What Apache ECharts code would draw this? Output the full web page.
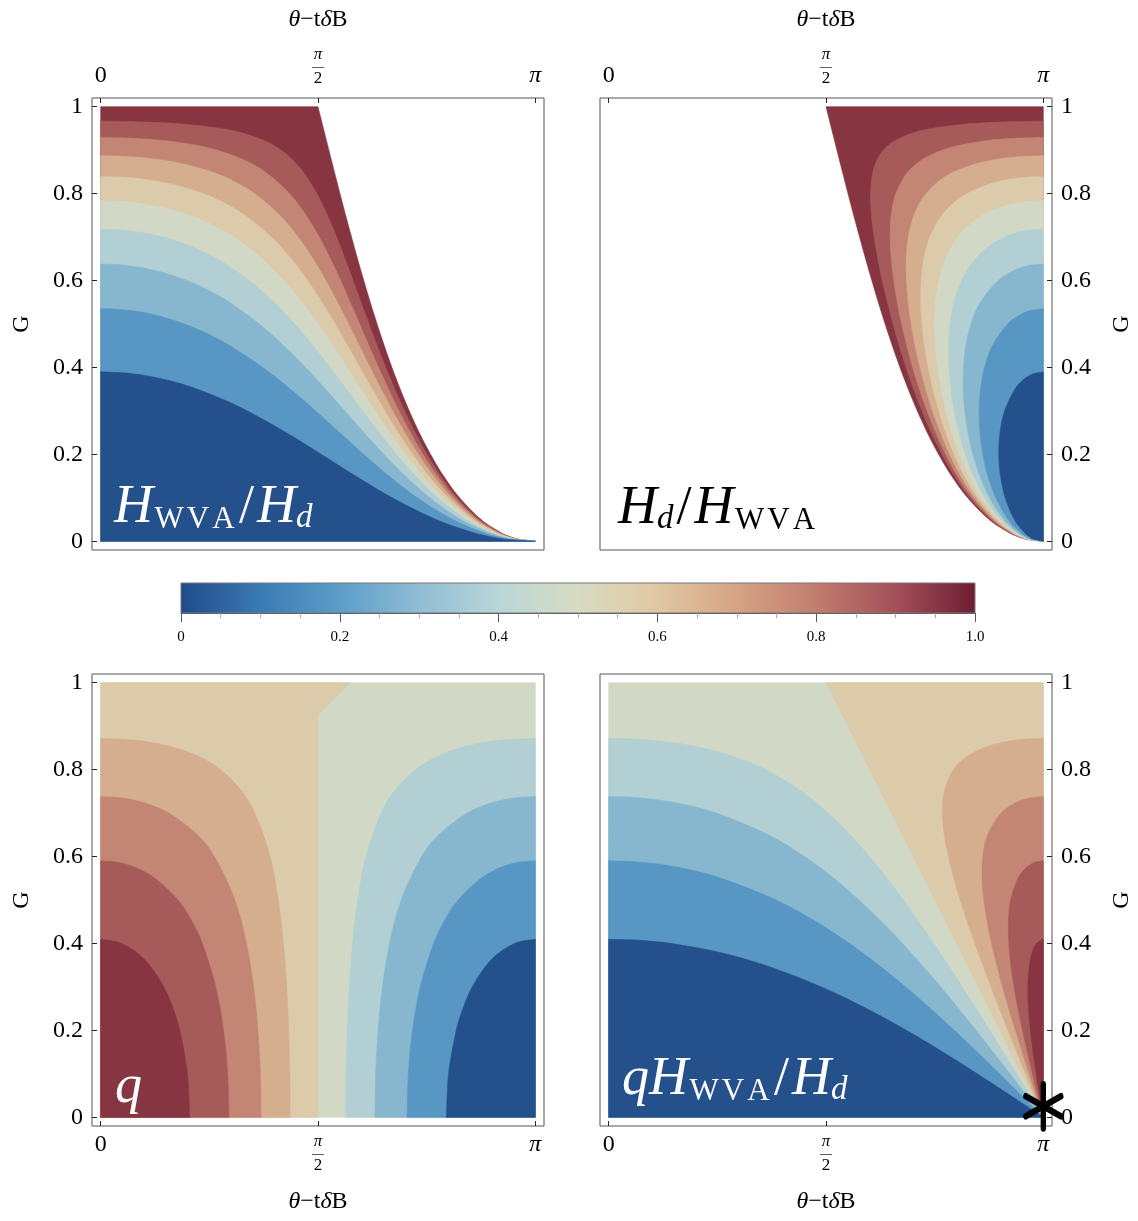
<!DOCTYPE html>
<html><head><meta charset="utf-8">
<script src="https://cdn.jsdelivr.net/npm/echarts@6/dist/echarts.min.js"></script>
<style>html,body{margin:0;padding:0;background:#fff}#c{width:1138px;height:1221px}</style>
</head><body><div id="c"></div>
<script>
// ---------- tick values / labels ----------
const xTickValues = [0, 0.5, 1];            // theta - t dB in units of pi
const xTickText = ['0', 'π/2', 'π'];
const yTickValues = [0, 0.2, 0.4, 0.6, 0.8, 1];
const yTickText = ['0', '0.2', '0.4', '0.6', '0.8', '1'];
const cbTickValues = [0, 0.2, 0.4, 0.6, 0.8, 1];
const cbTickText = ['0', '0.2', '0.4', '0.6', '0.8', '1.0'];

// ---------- contour band colours (0-0.1 ... 0.9-1) ----------
const bandColors = ['#24508c','#5897c3','#87b7cf','#b2d0d3','#d1d8c6','#dccbab','#d4ae8e','#c38674','#a75a5a','#873541'];
const cbStopPos = [0, 0.1, 0.2, 0.3, 0.4, 0.5, 0.6, 0.7, 0.8, 0.9, 1];
const cbStopColor = ['#1f4b89','#3a7ab3','#5d9dc8','#8fbdd3','#bad6d7','#d7dcc3','#dfc8a4','#d5a385','#c17d6f','#a24f59','#6d1e34'];

// ---------- contour lines, points [x (units of pi), G] ----------
const wvaBoundary = [[1,0],[0.9603,0.005],[0.9437,0.01],[0.9206,0.02],[0.8754,0.05],[0.826,0.1],[0.7891,0.15],[0.7591,0.2],[0.7331,0.25],[0.7101,0.3],[0.6893,0.35],[0.6702,0.4],[0.6526,0.45],[0.636,0.5],[0.6203,0.55],[0.6054,0.6],[0.591,0.65],[0.5772,0.7],[0.5637,0.75],[0.5506,0.8],[0.5378,0.85],[0.5251,0.9],[0.5125,0.95],[0.5,1]];

// panel 1: H_WVA/H_d levels
const r01 = [[1,0],[0.929,0.005],[0.8994,0.01],[0.8573,0.02],[0.7721,0.05],[0.671,0.1],[0.5868,0.15],[0.5076,0.2],[0.427,0.25],[0.3373,0.3],[0.285,0.325],[0.2224,0.35],[0.1927,0.36],[0.1568,0.37],[0.1109,0.38],[0.0783,0.385],[0.0489,0.388],[0,0.39]];
const r02 = [[1,0],[0.9403,0.005],[0.9155,0.01],[0.8804,0.02],[0.8105,0.05],[0.7288,0.1],[0.6636,0.15],[0.6054,0.2],[0.5499,0.25],[0.4946,0.3],[0.4367,0.35],[0.3729,0.4],[0.2972,0.45],[0.2508,0.475],[0.1929,0.5],[0.1279,0.52],[0.0761,0.53],[0.0214,0.535],[0,0.5354]];
const r03 = [[1,0],[0.946,0.005],[0.9237,0.01],[0.8921,0.02],[0.8292,0.05],[0.7576,0.1],[0.701,0.15],[0.6516,0.2],[0.6058,0.25],[0.5615,0.3],[0.5172,0.35],[0.4712,0.4],[0.4214,0.45],[0.3649,0.5],[0.296,0.55],[0.2529,0.575],[0.1986,0.6],[0.138,0.62],[0.0926,0.63],[0.0568,0.635],[0.0329,0.637],[0,0.6377]];
const r04 = [[1,0],[0.9498,0.005],[0.9291,0.01],[0.8998,0.02],[0.8415,0.05],[0.7761,0.1],[0.7248,0.15],[0.6808,0.2],[0.6407,0.25],[0.6026,0.3],[0.5654,0.35],[0.5278,0.4],[0.4888,0.45],[0.4466,0.5],[0.3991,0.55],[0.3423,0.6],[0.2677,0.65],[0.2046,0.68],[0.1432,0.7],[0.0964,0.71],[0.0595,0.715],[0.0348,0.717],[0,0.718]];
const r05 = [[1,0],[0.9525,0.005],[0.933,0.01],[0.9053,0.02],[0.8506,0.05],[0.7892,0.1],[0.742,0.15],[0.7017,0.2],[0.6655,0.25],[0.6316,0.3],[0.5991,0.35],[0.5669,0.4],[0.5342,0.45],[0.5,0.5],[0.463,0.55],[0.4211,0.6],[0.3711,0.65],[0.3057,0.7],[0.2522,0.73],[0.2042,0.75],[0.1333,0.77],[0.0698,0.78],[0.047,0.782],[0,0.7837]];
const r06 = [[1,0],[0.9547,0.005],[0.936,0.01],[0.9096,0.02],[0.8576,0.05],[0.7995,0.1],[0.7554,0.15],[0.7179,0.2],[0.6845,0.25],[0.6539,0.3],[0.6247,0.35],[0.5963,0.4],[0.5682,0.45],[0.5393,0.5],[0.509,0.55],[0.4759,0.6],[0.4382,0.65],[0.3926,0.7],[0.332,0.75],[0.2813,0.78],[0.2359,0.8],[0.1709,0.82],[0.1203,0.83],[0.0818,0.835],[0.0431,0.838],[0,0.8391]];
const r07 = [[1,0],[0.9564,0.005],[0.9384,0.01],[0.9131,0.02],[0.8632,0.05],[0.8078,0.1],[0.7661,0.15],[0.731,0.2],[0.6999,0.25],[0.6717,0.3],[0.6453,0.35],[0.6199,0.4],[0.5951,0.45],[0.5703,0.5],[0.5448,0.55],[0.5179,0.6],[0.4884,0.65],[0.4543,0.7],[0.4121,0.75],[0.354,0.8],[0.3032,0.83],[0.2554,0.85],[0.1823,0.87],[0.1207,0.88],[0.0662,0.885],[0.0343,0.8865],[0,0.8872]];
const r08 = [[1,0],[0.9579,0.005],[0.9405,0.01],[0.916,0.02],[0.8679,0.05],[0.8148,0.1],[0.7751,0.15],[0.7417,0.2],[0.7127,0.25],[0.6864,0.3],[0.6622,0.35],[0.6394,0.4],[0.6173,0.45],[0.5957,0.5],[0.5741,0.55],[0.552,0.6],[0.5285,0.65],[0.5027,0.7],[0.4726,0.75],[0.4343,0.8],[0.3782,0.85],[0.3243,0.88],[0.2676,0.9],[0.2257,0.91],[0.1631,0.92],[0.1121,0.925],[0.059,0.928],[0,0.9291]];
const r09 = [[1,0],[0.9591,0.005],[0.9422,0.01],[0.9185,0.02],[0.8719,0.05],[0.8207,0.1],[0.7828,0.15],[0.751,0.2],[0.7236,0.25],[0.6991,0.3],[0.6767,0.35],[0.656,0.4],[0.6362,0.45],[0.6173,0.5],[0.5989,0.55],[0.5806,0.6],[0.5621,0.65],[0.5428,0.7],[0.5218,0.75],[0.4974,0.8],[0.4659,0.85],[0.4394,0.88],[0.4153,0.9],[0.3809,0.92],[0.324,0.94],[0.2755,0.95],[0.1895,0.96],[0.1431,0.963],[0.0954,0.965],[0.0544,0.966],[0,0.9666]];

// panel 2: H_d/H_WVA levels
const h01 = [[1,0],[0.9776,0.005],[0.9686,0.01],[0.9562,0.02],[0.9334,0.05],[0.9124,0.1],[0.9015,0.15],[0.8976,0.2],[0.9004,0.25],[0.911,0.3],[0.9347,0.35],[0.9517,0.37],[0.9656,0.38],[0.9754,0.385],[1,0.39]];
const h02 = [[1,0],[0.9733,0.005],[0.9626,0.01],[0.9475,0.02],[0.9191,0.05],[0.8907,0.1],[0.8727,0.15],[0.861,0.2],[0.8544,0.25],[0.8525,0.3],[0.8556,0.35],[0.8648,0.4],[0.8829,0.45],[0.918,0.5],[0.9441,0.52],[0.9662,0.53],[1,0.5354]];
const h03 = [[1,0],[0.9705,0.005],[0.9585,0.01],[0.9417,0.02],[0.9097,0.05],[0.8766,0.1],[0.8542,0.15],[0.8381,0.2],[0.8268,0.25],[0.8194,0.3],[0.8158,0.35],[0.8164,0.4],[0.8218,0.45],[0.8336,0.5],[0.8553,0.55],[0.8963,0.6],[0.9261,0.62],[0.9499,0.63],[0.9689,0.635],[1,0.6377]];
const h04 = [[1,0],[0.9684,0.005],[0.9554,0.01],[0.9372,0.02],[0.9024,0.05],[0.8657,0.1],[0.8402,0.15],[0.821,0.2],[0.8062,0.25],[0.7952,0.3],[0.7875,0.35],[0.7833,0.4],[0.7826,0.45],[0.7858,0.5],[0.7948,0.55],[0.8121,0.6],[0.8437,0.65],[0.8762,0.68],[0.9113,0.7],[0.9395,0.71],[0.9624,0.715],[1,0.718]];
const h05 = [[1,0],[0.9665,0.005],[0.9528,0.01],[0.9335,0.02],[0.8963,0.05],[0.8568,0.1],[0.8288,0.15],[0.807,0.2],[0.7896,0.25],[0.7761,0.3],[0.7652,0.35],[0.7572,0.4],[0.752,0.45],[0.75,0.5],[0.7523,0.55],[0.7598,0.6],[0.7751,0.65],[0.8031,0.7],[0.8322,0.73],[0.8609,0.75],[0.9071,0.77],[0.9509,0.78],[0.9667,0.782],[1,0.7837]];
const h06 = [[1,0],[0.965,0.005],[0.9505,0.01],[0.9303,0.02],[0.8912,0.05],[0.8492,0.1],[0.8189,0.15],[0.795,0.2],[0.7758,0.25],[0.7597,0.3],[0.746,0.35],[0.7353,0.4],[0.7268,0.45],[0.721,0.5],[0.7183,0.55],[0.7192,0.6],[0.7253,0.65],[0.7392,0.7],[0.7668,0.75],[0.7955,0.78],[0.8246,0.8],[0.8704,0.82],[0.9076,0.83],[0.937,0.835],[0.9666,0.838],[1,0.8391]];
const h07 = [[1,0],[0.9635,0.005],[0.9486,0.01],[0.9275,0.02],[0.8866,0.05],[0.8425,0.1],[0.8103,0.15],[0.7846,0.2],[0.7635,0.25],[0.7451,0.3],[0.7297,0.35],[0.7164,0.4],[0.705,0.45],[0.6961,0.5],[0.6893,0.55],[0.6853,0.6],[0.6848,0.65],[0.6895,0.7],[0.7022,0.75],[0.7164,0.78],[0.7301,0.8],[0.7612,0.83],[0.7945,0.85],[0.8502,0.87],[0.8997,0.88],[0.9447,0.885],[1,0.8872]];
const h08 = [[1,0],[0.9623,0.005],[0.9468,0.01],[0.925,0.02],[0.8826,0.05],[0.8364,0.1],[0.8025,0.15],[0.7755,0.2],[0.7524,0.25],[0.7325,0.3],[0.715,0.35],[0.6995,0.4],[0.6859,0.45],[0.6741,0.5],[0.664,0.55],[0.656,0.6],[0.6502,0.65],[0.6477,0.7],[0.65,0.75],[0.6607,0.8],[0.6886,0.85],[0.7245,0.88],[0.7679,0.9],[0.802,0.91],[0.8554,0.92],[0.9,0.925],[0.9471,0.928],[1,0.9291]];
const h09 = [[1,0],[0.9611,0.005],[0.9452,0.01],[0.9227,0.02],[0.8789,0.05],[0.8309,0.1],[0.7955,0.15],[0.7669,0.2],[0.7423,0.25],[0.7208,0.3],[0.7015,0.35],[0.6842,0.4],[0.6685,0.45],[0.6543,0.5],[0.6413,0.55],[0.6295,0.6],[0.6193,0.65],[0.6107,0.7],[0.6047,0.75],[0.6025,0.8],[0.6078,0.85],[0.6185,0.88],[0.632,0.9],[0.6556,0.92],[0.701,0.94],[0.7431,0.95],[0.8216,0.96],[0.8648,0.963],[0.9096,0.965],[0.9481,0.966],[1,0.9666]];

// panel 3: q levels
const q09 = [[0.2048,0],[0.1995,0.1],[0.1819,0.2],[0.1667,0.25],[0.1451,0.3],[0.1124,0.35],[0.0817,0.38],[0.0476,0.4],[0.0318,0.405],[0,0.4097]];
const q08 = [[0.2952,0],[0.2921,0.1],[0.2825,0.2],[0.2646,0.3],[0.2339,0.4],[0.2105,0.45],[0.1776,0.5],[0.1248,0.55],[0.0907,0.57],[0.0654,0.58],[0.0373,0.587],[0,0.5903]];
const q07 = [[0.369,0],[0.3672,0.1],[0.3617,0.2],[0.3517,0.3],[0.3353,0.4],[0.3086,0.5],[0.2615,0.6],[0.2223,0.65],[0.1568,0.7],[0.1114,0.72],[0.0753,0.73],[0.0466,0.735],[0,0.738]];
const q06 = [[0.4359,0],[0.4351,0.1],[0.4325,0.2],[0.4279,0.3],[0.4205,0.4],[0.4087,0.5],[0.3895,0.6],[0.3546,0.7],[0.3249,0.75],[0.2757,0.8],[0.2261,0.83],[0.1725,0.85],[0.1305,0.86],[0.1007,0.865],[0.0652,0.869],[0,0.8718]];
const q05 = [[0,0],[0.5,0],[0.5,0.927],[0.574,1],[0,1]];
const q04 = [[0.5641,0],[0.5649,0.1],[0.5675,0.2],[0.5721,0.3],[0.5795,0.4],[0.5913,0.5],[0.6105,0.6],[0.6454,0.7],[0.6751,0.75],[0.7243,0.8],[0.7739,0.83],[0.8275,0.85],[0.8695,0.86],[0.8993,0.865],[0.9348,0.869],[1,0.8718]];
const q03 = [[0.631,0],[0.6328,0.1],[0.6383,0.2],[0.6483,0.3],[0.6647,0.4],[0.6914,0.5],[0.7385,0.6],[0.7777,0.65],[0.8432,0.7],[0.8886,0.72],[0.9247,0.73],[0.9534,0.735],[1,0.738]];
const q02 = [[0.7048,0],[0.7079,0.1],[0.7175,0.2],[0.7354,0.3],[0.7661,0.4],[0.7895,0.45],[0.8224,0.5],[0.8752,0.55],[0.9093,0.57],[0.9346,0.58],[0.9627,0.587],[1,0.5903]];
const q01 = [[0.7952,0],[0.8005,0.1],[0.8181,0.2],[0.8333,0.25],[0.8549,0.3],[0.8876,0.35],[0.9183,0.38],[0.9524,0.4],[0.9682,0.405],[1,0.4097]];

// panel 4: q H_WVA/H_d levels
const p01 = [[1,0],[0.9925,0.005],[0.985,0.01],[0.97,0.02],[0.9248,0.05],[0.8483,0.1],[0.7692,0.15],[0.6852,0.2],[0.5936,0.25],[0.4891,0.3],[0.3591,0.35],[0.2528,0.38],[0.1441,0.4],[0.0997,0.405],[0.0597,0.408],[0,0.4097]];
const p02 = [[1,0],[0.994,0.005],[0.9899,0.01],[0.98,0.02],[0.95,0.05],[0.8995,0.1],[0.8482,0.15],[0.7954,0.2],[0.7408,0.25],[0.683,0.3],[0.6217,0.35],[0.5539,0.4],[0.4772,0.45],[0.385,0.5],[0.2592,0.55],[0.1848,0.57],[0.1321,0.58],[0.075,0.587],[0.0475,0.589],[0,0.5903]];
const p03 = [[1,0],[0.9955,0.005],[0.9923,0.01],[0.9847,0.02],[0.9618,0.05],[0.9234,0.1],[0.8846,0.15],[0.8453,0.2],[0.8049,0.25],[0.7639,0.3],[0.7209,0.35],[0.6758,0.4],[0.6278,0.45],[0.5758,0.5],[0.5178,0.55],[0.4506,0.6],[0.3672,0.65],[0.2477,0.7],[0.1729,0.72],[0.116,0.73],[0.0713,0.735],[0.0412,0.737],[0,0.738]];
const p04 = [[1,0],[0.9968,0.005],[0.9938,0.01],[0.9878,0.02],[0.9694,0.05],[0.9387,0.1],[0.9078,0.15],[0.8768,0.2],[0.8454,0.25],[0.8136,0.3],[0.7814,0.35],[0.7479,0.4],[0.7137,0.45],[0.678,0.5],[0.6405,0.55],[0.6002,0.6],[0.5559,0.65],[0.5054,0.7],[0.444,0.75],[0.361,0.8],[0.2879,0.83],[0.2157,0.85],[0.1619,0.86],[0.1241,0.865],[0.0801,0.869],[0.0426,0.871],[0,0.8718]];
const p05 = [[1,0],[0.5,1],[1,1]];
const p06 = [[1,0],[0.998,0.005],[0.9957,0.01],[0.9918,0.02],[0.9796,0.05],[0.9593,0.1],[0.939,0.15],[0.919,0.2],[0.8992,0.25],[0.8798,0.3],[0.8609,0.35],[0.8426,0.4],[0.8251,0.45],[0.8088,0.5],[0.7941,0.55],[0.7818,0.6],[0.7722,0.65],[0.7677,0.7],[0.7723,0.75],[0.7936,0.8],[0.8242,0.83],[0.8628,0.85],[0.8948,0.86],[0.9184,0.865],[0.9469,0.869],[0.9716,0.871],[1,0.8718]];
const p07 = [[1,0],[0.9965,0.01],[0.9935,0.02],[0.9836,0.05],[0.9674,0.1],[0.9515,0.15],[0.9358,0.2],[0.9207,0.25],[0.9064,0.3],[0.8931,0.35],[0.8811,0.4],[0.8709,0.45],[0.8633,0.5],[0.8593,0.55],[0.8609,0.6],[0.8719,0.65],[0.9027,0.7],[0.9288,0.72],[0.9512,0.73],[0.9695,0.735],[1,0.738]];
const p08 = [[1,0],[0.9975,0.01],[0.9949,0.02],[0.9875,0.05],[0.9753,0.1],[0.9634,0.15],[0.9522,0.2],[0.9418,0.25],[0.9327,0.3],[0.9255,0.35],[0.9207,0.4],[0.9198,0.45],[0.9249,0.5],[0.9418,0.55],[0.9562,0.57],[0.9679,0.58],[0.9817,0.587],[1,0.5903]];
const p09 = [[1,0],[0.9965,0.02],[0.9917,0.05],[0.9838,0.1],[0.9765,0.15],[0.9704,0.2],[0.9661,0.25],[0.9646,0.3],[0.968,0.35],[0.9747,0.38],[0.9845,0.4],[1,0.4097]];

// singular point marked with an asterisk
const asteriskPoint = [[1, 0]];

// ---------- band polygons: straight corner parts + smooth contour part ----------
const full = [[0,0],[1,0],[1,1],[0,1]];
const O = [[0,0]];
const shapes1 = [
  {pre: O, curve: wvaBoundary, post: [[0,1]], band: 9},
  {pre: O, curve: r09, band: 8}, {pre: O, curve: r08, band: 7}, {pre: O, curve: r07, band: 6},
  {pre: O, curve: r06, band: 5}, {pre: O, curve: r05, band: 4}, {pre: O, curve: r04, band: 3},
  {pre: O, curve: r03, band: 2}, {pre: O, curve: r02, band: 1}, {pre: O, curve: r01, band: 0}
];
const shapes2 = [
  {curve: wvaBoundary, post: [[1,1]], band: 9},
  {curve: h09, band: 8}, {curve: h08, band: 7}, {curve: h07, band: 6}, {curve: h06, band: 5},
  {curve: h05, band: 4}, {curve: h04, band: 3}, {curve: h03, band: 2}, {curve: h02, band: 1}, {curve: h01, band: 0}
];
const shapes3 = [
  {pre: full, band: 4}, {pre: q05, band: 5},
  {curve: q06, post: O, band: 6}, {curve: q07, post: O, band: 7}, {curve: q08, post: O, band: 8}, {curve: q09, post: O, band: 9},
  {curve: q04, post: [[1,0]], band: 3}, {curve: q03, post: [[1,0]], band: 2}, {curve: q02, post: [[1,0]], band: 1}, {curve: q01, post: [[1,0]], band: 0}
];
const shapes4 = [
  {pre: full, band: 4}, {pre: p05, band: 5},
  {curve: p06, band: 6}, {curve: p07, band: 7}, {curve: p08, band: 8}, {curve: p09, band: 9},
  {pre: O, curve: p04, band: 3}, {pre: O, curve: p03, band: 2}, {pre: O, curve: p02, band: 1}, {pre: O, curve: p01, band: 0}
];

// ---------- helpers ----------
const serif = "'Liberation Serif','Times New Roman',serif";
function nearestIdx(arr, v) { let k = 0; for (let i = 1; i < arr.length; i++) if (Math.abs(arr[i]-v) < Math.abs(arr[k]-v)) k = i; return k; }
function fmtX(v) {
  const t = xTickText[nearestIdx(xTickValues, v)];
  if (t === 'π/2') return '{n|π}\n{b|—}\n{d|2}';
  if (t === 'π') return '{p|π}';
  return '{r|' + t + '}';
}
function fmtY(v) { return yTickText[nearestIdx(yTickValues, v)]; }
function fmtCb(v) { return cbTickText[nearestIdx(cbTickValues, v)]; }

// smooth drawing of a pixel polyline (cubic Hermite through every given point)
function smoothPx(pts) {
  const n = pts.length;
  if (n < 3) return pts.slice();
  const tan = pts.map((p, i) => {
    const a = pts[Math.max(0, i - 1)], b = pts[Math.min(n - 1, i + 1)];
    const dx = b[0] - a[0], dy = b[1] - a[1], l = Math.hypot(dx, dy) || 1;
    return [dx / l, dy / l];
  });
  const out = [pts[0]];
  for (let i = 0; i < n - 1; i++) {
    const p0 = pts[i], p3 = pts[i + 1];
    const L = Math.hypot(p3[0] - p0[0], p3[1] - p0[1]);
    const p1 = [p0[0] + tan[i][0] * L / 3, p0[1] + tan[i][1] * L / 3];
    const p2 = [p3[0] - tan[i + 1][0] * L / 3, p3[1] - tan[i + 1][1] * L / 3];
    const steps = Math.max(1, Math.ceil(L / 3));
    for (let k = 1; k <= steps; k++) {
      const t = k / steps, u = 1 - t;
      out.push([u*u*u*p0[0] + 3*u*u*t*p1[0] + 3*u*t*t*p2[0] + t*t*t*p3[0],
                u*u*u*p0[1] + 3*u*u*t*p1[1] + 3*u*t*t*p2[1] + t*t*t*p3[1]]);
    }
  }
  return out;
}

const xRich = {
  r: {fontFamily: serif, fontSize: 24, color: '#000'},
  p: {fontFamily: serif, fontSize: 24, fontStyle: 'italic', color: '#000'},
  n: {fontFamily: serif, fontSize: 17, fontStyle: 'italic', lineHeight: 18, color: '#000'},
  b: {fontFamily: serif, fontSize: 12, lineHeight: 6, color: '#000'},
  d: {fontFamily: serif, fontSize: 17, lineHeight: 18, color: '#000'}
};
const nameStyle = {fontFamily: serif, fontSize: 24, color: '#000',
  rich: {i: {fontFamily: serif, fontSize: 24, fontStyle: 'italic', color: '#000'}}};

const PAD = 452 * 0.02 / 1.04;          // frame padding around the data area
const INNER = 452 / 1.04;
function mkX(i, pos) {
  return {gridIndex: i, type: 'value', min: 0, max: 1, interval: 0.5, position: pos, offset: PAD,
    axisLine: {show: false, onZero: false}, splitLine: {show: false},
    axisTick: {show: true, inside: true, length: 5, lineStyle: {color: '#222'}},
    axisLabel: {show: true, margin: pos === 'top' ? 10 : 7, formatter: fmtX, rich: xRich, showMinLabel: true, showMaxLabel: true},
    name: '{i|θ}−t{i|δ}B', nameLocation: 'middle', nameGap: pos === 'top' ? 66 : 64, nameTextStyle: nameStyle};
}
function mkY(i, pos) {
  return {gridIndex: i, type: 'value', min: 0, max: 1, interval: 0.2, position: pos, offset: PAD,
    axisLine: {show: false, onZero: false}, splitLine: {show: false},
    axisTick: {show: true, inside: true, length: 5, lineStyle: {color: '#222'}},
    axisLabel: {show: true, margin: 9, formatter: fmtY, fontFamily: serif, fontSize: 24, color: '#000', showMinLabel: true, showMaxLabel: true},
    name: 'G', nameLocation: 'middle', nameRotate: 90, nameGap: 58, nameTextStyle: {fontFamily: serif, fontSize: 24, color: '#000'}};
}
function hidden(i) { return {gridIndex: i, type: 'value', min: 0, max: 1, show: false, axisLine: {onZero: false}}; }
function polySeries(i, shapes) {
  return {type: 'custom', xAxisIndex: i, yAxisIndex: i, silent: true, animation: false, clip: false,
    data: shapes.map(() => [0.5, 0.5]),
    renderItem: function (params, api) {
      const s = shapes[params.dataIndex];
      const pre = (s.pre || []).map(p => api.coord(p));
      const cur = smoothPx((s.curve || []).map(p => api.coord(p)));
      const post = (s.post || []).map(p => api.coord(p));
      const col = bandColors[s.band];
      return {type: 'polygon', shape: {points: pre.concat(cur, post)}, style: {fill: col, stroke: col, lineWidth: 0.6}};
    }};
}

const frame = {show: true, borderColor: '#555', borderWidth: 1, backgroundColor: 'transparent'};
function labRich(col) {
  return {
    i: {fontFamily: serif, fontStyle: 'italic', fontSize: 54, lineHeight: 50, color: col, verticalAlign: 'bottom'},
    r: {fontFamily: serif, fontSize: 54, lineHeight: 50, color: col, verticalAlign: 'bottom', padding: [0, 3, 0, 3]},
    s: {fontFamily: serif, fontSize: 31, lineHeight: 14, color: col, verticalAlign: 'bottom', padding: [0, 1.5, 0, 1.5]},
    si: {fontFamily: serif, fontStyle: 'italic', fontSize: 33, lineHeight: 14, color: col, verticalAlign: 'bottom'}
  };
}
function label(x, y, text, col) {
  return {type: 'text', x: x, y: y, z: 100, silent: true,
    style: {text: text, rich: labRich(col), verticalAlign: 'bottom', align: 'left', fill: col}};
}

const grids = [];
[[92, 98], [600, 98], [92, 674], [600, 674]].forEach(g => grids.push(Object.assign({left: g[0], top: g[1], width: 452, height: 452}, frame)));
[[92, 98], [600, 98], [92, 674], [600, 674]].forEach(g => grids.push({left: g[0] + PAD, top: g[1] + PAD, width: INNER, height: INNER, show: false}));
grids.push({left: 181, top: 583, width: 794, height: 30, show: false});

const chart = echarts.init(document.getElementById('c'), null, {renderer: 'canvas'});
chart.setOption({
  animation: false,
  backgroundColor: '#fff',
  textStyle: {fontFamily: serif},
  grid: grids,
  xAxis: [hidden(0), hidden(1), hidden(2), hidden(3),
    mkX(4, 'top'), mkX(5, 'top'), mkX(6, 'bottom'), mkX(7, 'bottom'),
    {gridIndex: 8, type: 'value', min: 0, max: 1, interval: 0.2, position: 'bottom',
     axisLine: {show: true, onZero: false, lineStyle: {color: '#555'}},
     axisTick: {show: true, length: 9, lineStyle: {color: '#555'}},
     minorTick: {show: true, splitNumber: 4, length: 5, lineStyle: {color: '#aaa'}},
     splitLine: {show: false},
     axisLabel: {margin: 17, formatter: fmtCb, fontFamily: serif, fontSize: 15, color: '#000'}}],
  yAxis: [hidden(0), hidden(1), hidden(2), hidden(3),
    mkY(4, 'left'), mkY(5, 'right'), mkY(6, 'left'), mkY(7, 'right'),
    {gridIndex: 8, type: 'value', min: 0, max: 1, show: false, axisLine: {onZero: false}}],
  series: [
    polySeries(4, shapes1), polySeries(5, shapes2), polySeries(6, shapes3), polySeries(7, shapes4),
    {type: 'custom', xAxisIndex: 8, yAxisIndex: 8, silent: true, data: [[0.5, 0.5]],
     renderItem: function (params, api) {
       const a = api.coord([0, 1]), b = api.coord([1, 0]);
       const stops = cbStopPos.map((p, k) => ({offset: p, color: cbStopColor[k]}));
       return {type: 'rect', shape: {x: a[0], y: a[1], width: b[0] - a[0], height: b[1] - a[1]},
         style: {fill: new echarts.graphic.LinearGradient(0, 0, 1, 0, stops), stroke: '#777', lineWidth: 1}};
     }},
    {type: 'scatter', xAxisIndex: 7, yAxisIndex: 7, silent: true, clip: false, z: 10, data: asteriskPoint,
     symbol: 'path://M0,0L0,44M-17.5,12L17.5,32M-17.5,32L17.5,12', symbolSize: [35, 44], symbolOffset: [0, -11],
     itemStyle: {color: 'none', borderColor: '#000', borderWidth: 6, borderCap: 'round', opacity: 1}}
  ],
  graphic: [
    label(114, 535, '{i|H}{s|W}{s|V}{s|A}{r|/}{i|H}{si|d}', '#fff'),
    label(618, 536, '{i|H}{si|d}{r|/}{i|H}{s|W}{s|V}{s|A}', '#000'),
    label(115, 1115, '{i|q}', '#fff'),
    label(622, 1107, '{i|q}{i|H}{s|W}{s|V}{s|A}{r|/}{i|H}{si|d}', '#fff')
  ]
});
</script></body></html>
